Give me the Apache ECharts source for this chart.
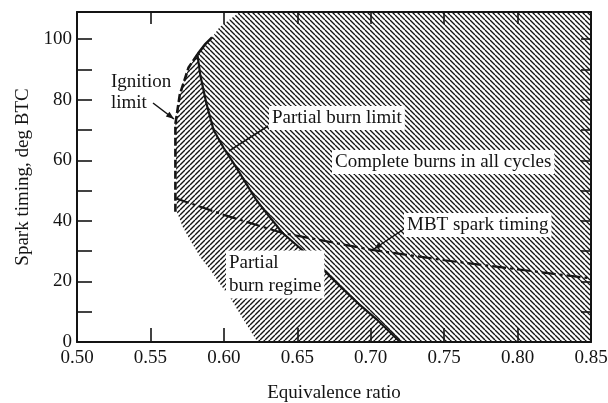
<!DOCTYPE html>
<html>
<head>
<meta charset="utf-8">
<script src="https://cdn.jsdelivr.net/npm/echarts@6/dist/echarts.min.js"></script>
<style>
  html, body { margin: 0; padding: 0; background: #fff; }
  #chart { width: 608px; height: 403px; }
</style>
</head>
<body>
<div id="chart"></div>
<script>
// Axis tick values
const xTicks = [0.50, 0.55, 0.60, 0.65, 0.70, 0.75, 0.80, 0.85];
const yTicks = [0, 20, 40, 60, 80, 100];

// Partial burn limit (equivalence ratio, spark timing deg BTC)
const partialBurnLimit = [
  [0.582, 95], [0.584, 88], [0.588, 79], [0.593, 70], [0.600, 64],
  [0.608, 58], [0.615, 52.5], [0.622, 47], [0.630, 42], [0.640, 36],
  [0.659, 28], [0.679, 18.5], [0.692, 12.5], [0.704, 7.5], [0.720, 0]
];

// Ignition limit (dashed) and its solid continuation at the top
const ignitionLimit = [
  [0.567, 43], [0.567, 72], [0.570, 81.7], [0.576, 90.7], [0.582, 95]
];
const ignitionTop = [[0.582, 95], [0.587, 98.2], [0.592, 100.6]];

// MBT spark timing
const mbtTiming = [
  [0.567, 47.5], [0.600, 42], [0.640, 36], [0.700, 30.5],
  [0.750, 27], [0.800, 24], [0.850, 21]
];

// Edge of the partial-burn region below the ignition limit
const partialLowerEdge = [
  [0.568, 43], [0.572, 38], [0.577, 33.7], [0.584, 28], [0.591, 23.7],
  [0.597, 19.4], [0.604, 14.8], [0.612, 8.5], [0.620, 2.2], [0.623, 0]
];

// Upper-left edge of the complete-burn region
const completeUpperEdge = [
  [0.611, 109], [0.604, 106.5], [0.597, 104], [0.592, 100.6], [0.582, 95]
];

// Region outlines assembled from the curves above
const partialRegion = []
  .concat(partialLowerEdge.slice().reverse())
  .concat(ignitionLimit.slice(1))
  .concat(partialBurnLimit.slice(1));
const completeRegion = []
  .concat(completeUpperEdge)
  .concat(partialBurnLimit.slice(1))
  .concat([[0.85, 0], [0.85, 109]]);

const notes = ['Ignition\nlimit', 'Partial burn limit', 'Complete burns in all cycles',
               'MBT spark timing', 'Partial\nburn regime'];

const FONT = '"Liberation Serif", "Times New Roman", serif';
const FS = 19;
const INK = '#141414';

function hatch(size, width, dir) {
  const c = document.createElement('canvas');
  c.width = size; c.height = size;
  const g = c.getContext('2d');
  g.strokeStyle = INK;
  g.lineWidth = width;
  g.beginPath();
  for (let k = -1; k <= 1; k++) {
    if (dir === 'back') { g.moveTo(k * size, 0); g.lineTo(k * size + size, size); }
    else { g.moveTo(k * size, size); g.lineTo(k * size + size, 0); }
  }
  g.stroke();
  return { image: c, repeat: 'repeat' };
}
const backHatch = hatch(5, 1.35, 'back');
const fwdHatch = hatch(5, 1.4, 'fwd');

function regionSeries(points, fill) {
  return {
    type: 'custom',
    coordinateSystem: 'cartesian2d',
    data: points,
    silent: true,
    z: 1,
    renderItem: function (params, api) {
      if (params.dataIndex !== 0) return null;
      return {
        type: 'polygon',
        shape: { points: points.map(p => api.coord(p)) },
        style: { fill: fill, stroke: null }
      };
    }
  };
}

function lineSeries(points, width, type) {
  return {
    type: 'line', data: points, showSymbol: false, symbol: 'none',
    silent: true, z: 3, animation: false,
    lineStyle: { color: INK, width: width, type: type }
  };
}

function leader(p0, p1, head) {
  const items = [{
    type: 'line', z: 20,
    shape: { x1: p0[0], y1: p0[1], x2: p1[0], y2: p1[1] },
    style: { stroke: INK, lineWidth: 1.5 }
  }];
  if (head) {
    const a = Math.atan2(p1[1] - p0[1], p1[0] - p0[0]);
    const L = 8, W = 3;
    const bx = p1[0] - L * Math.cos(a), by = p1[1] - L * Math.sin(a);
    items.push({
      type: 'polygon', z: 20,
      shape: { points: [p1, [bx + W * Math.sin(a), by - W * Math.cos(a)], [bx - W * Math.sin(a), by + W * Math.cos(a)]] },
      style: { fill: INK }
    });
  }
  return items;
}

function note(text, x, y, bg, lh) {
  return {
    type: 'text', z: 30,
    style: {
      text: text, x: x, y: y, font: FS + 'px ' + FONT, fill: INK,
      align: 'left', verticalAlign: 'middle', lineHeight: lh || 22,
      backgroundColor: bg ? '#fff' : null, padding: bg ? [1, 3, 1, 3] : 0
    }
  };
}

const axisCommon = {
  axisLine: { show: true, onZero: false, lineStyle: { color: INK, width: 2 } },
  splitLine: { show: false },
  axisTick: { inside: true, lineStyle: { color: INK, width: 1.6 } }
};

const chart = echarts.init(document.getElementById('chart'), null, { renderer: 'canvas' });
chart.setOption({
  backgroundColor: '#fff',
  animation: false,
  grid: { left: 77, right: 17, top: 12, bottom: 61, containLabel: false, outerBoundsMode: 'none' },
  xAxis: [
    Object.assign({}, axisCommon, {
      type: 'value', position: 'bottom', min: xTicks[0], max: xTicks[xTicks.length - 1], interval: 0.05,
      axisTick: { inside: true, length: 14, lineStyle: { color: INK, width: 1.6 } },
      axisLabel: { color: INK, fontFamily: FONT, fontSize: FS, margin: 7,
                   formatter: v => v.toFixed(2) },
      name: 'Equivalence ratio', nameLocation: 'middle', nameGap: 42,
      nameTextStyle: { color: INK, fontFamily: FONT, fontSize: FS }
    }),
    Object.assign({}, axisCommon, {
      type: 'value', position: 'top', min: xTicks[0], max: xTicks[xTicks.length - 1], interval: 0.05,
      axisTick: { inside: true, length: 12, lineStyle: { color: INK, width: 1.6 } },
      axisLabel: { show: false }
    })
  ],
  yAxis: [
    Object.assign({}, axisCommon, {
      type: 'value', position: 'left', min: 0, max: 109, interval: 10,
      axisTick: { inside: true, length: 15, lineStyle: { color: INK, width: 1.6 } },
      axisLabel: { color: INK, fontFamily: FONT, fontSize: FS, margin: 5,
                   formatter: v => (yTicks.indexOf(v) >= 0 ? String(v) : '') },
      name: 'Spark timing, deg BTC', nameLocation: 'middle', nameGap: 44,
      nameTextStyle: { color: INK, fontFamily: FONT, fontSize: FS }
    }),
    Object.assign({}, axisCommon, {
      type: 'value', position: 'right', min: 0, max: 109, interval: 10,
      axisTick: { inside: true, length: 10, lineStyle: { color: INK, width: 1.6 } },
      axisLabel: { show: false }
    })
  ],
  series: [
    regionSeries(completeRegion, backHatch),
    regionSeries(partialRegion, fwdHatch),
    lineSeries(partialBurnLimit, 2.2, 'solid'),
    lineSeries(ignitionLimit, 2.6, [8, 3]),
    lineSeries(ignitionTop, 2.6, 'solid'),
    lineSeries(mbtTiming, 2.2, [14, 4, 3, 4])
  ],
  graphic: [
    note(notes[0], 111, 92.5, false, 21),
    note(notes[1], 269, 118, true),
    note(notes[2], 332, 162, true),
    note(notes[3], 404, 225, true),
    note(notes[4], 226, 274.5, true, 23)
  ].concat(
    leader([153, 103], [174, 119], true),
    leader([268, 126], [229, 151], false),
    leader([404, 229], [374, 249], true)
  )
});
</script>
</body>
</html>
